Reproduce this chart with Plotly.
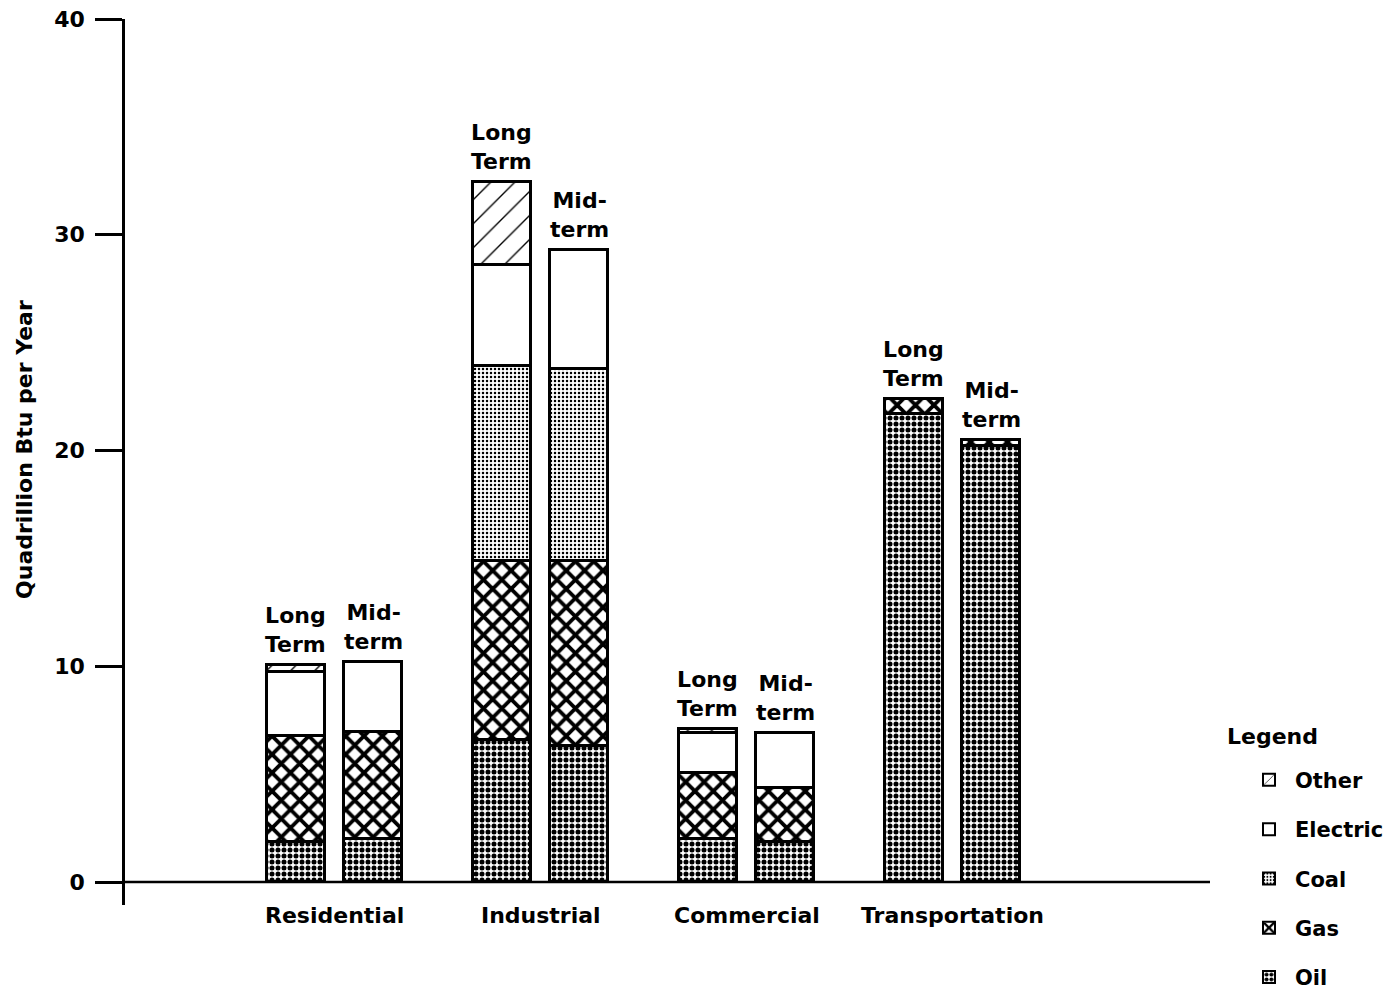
import plotly.graph_objects as go

# ---- data ----
sectors = ["Residential", "Industrial", "Commercial", "Transportation"]
scenarios = ["Long Term", "Mid-term"]
scenario_labels = ["Long<br>Term", "Mid-<br>term"]
fuels = ["Oil", "Gas", "Coal", "Electric", "Other"]

# values per sector: [Long Term, Mid-term]
oil = {"Residential": [1.85, 2.0], "Industrial": [6.6, 6.3],
       "Commercial": [2.0, 1.85], "Transportation": [21.7, 20.2]}
gas = {"Residential": [4.9, 4.95], "Industrial": [8.3, 8.6],
       "Commercial": [3.05, 2.5], "Transportation": [0.7, 0.3]}
coal = {"Residential": [0.0, 0.0], "Industrial": [9.0, 8.9],
        "Commercial": [0.0, 0.0], "Transportation": [0.0, 0.0]}
electric = {"Residential": [3.0, 3.25], "Industrial": [4.7, 5.5],
            "Commercial": [1.85, 2.55], "Transportation": [0.0, 0.0]}
other = {"Residential": [0.3, 0.0], "Industrial": [3.85, 0.0],
         "Commercial": [0.2, 0.0], "Transportation": [0.0, 0.0]}

y_ticks = [0, 10, 20, 30, 40]

series = {"Oil": oil, "Gas": gas, "Coal": coal, "Electric": electric, "Other": other}

patterns = {
    "Oil": dict(shape=".", size=6, solidity=0.55, fgcolor="black", bgcolor="white", fgopacity=1),
    "Gas": dict(shape="x", size=13, solidity=0.5, fgcolor="black", bgcolor="white", fgopacity=1),
    "Coal": dict(shape=".", size=4, solidity=0.3, fgcolor="black", bgcolor="white", fgopacity=1),
    "Electric": dict(shape="", fgcolor="black", bgcolor="white"),
    "Other": dict(shape="/", size=17, solidity=0.08, fgcolor="black", bgcolor="white", fgopacity=1),
}

FONT = "DejaVu Sans"
OFFSET = 0.187
WIDTH = 0.286

xs = []
for i, s in enumerate(sectors):
    for j, sc in enumerate(scenarios):
        xs.append(i + (-OFFSET if j == 0 else OFFSET))

fig = go.Figure()
for k, f in enumerate(fuels):
    vals = []
    for s in sectors:
        vals.extend(series[f][s])
    fig.add_trace(go.Bar(
        x=xs, y=vals, name=f, width=WIDTH,
        legendgroup=f, legendrank=len(fuels) - k,
        marker=dict(color="white", line=dict(color="black", width=3),
                    pattern=patterns[f]),
    ))

annotations = []
for i, s in enumerate(sectors):
    for j in range(2):
        total = sum(series[f][s][j] for f in fuels)
        annotations.append(dict(
            x=i + (-OFFSET if j == 0 else OFFSET), y=total,
            text=scenario_labels[j], showarrow=False,
            xanchor="center", yanchor="bottom", yshift=6,
            font=dict(family=FONT, size=22, color="black", weight="bold"),
        ))
    annotations.append(dict(
        x=i, y=0, text=s, showarrow=False,
        xanchor="center", yanchor="middle", yshift=-33,
        font=dict(family=FONT, size=22, color="black", weight="bold"),
    ))

# legend title
annotations.append(dict(
    x=1.0138, y=0.1907, xref="paper", yref="paper", text="Legend",
    showarrow=False, xanchor="left", yanchor="middle",
    font=dict(family=FONT, size=22, color="black", weight="bold"),
))
# y-axis title
annotations.append(dict(
    x=-0.0922, y=0.5147, xref="paper", yref="paper",
    text="Quadrillion Btu per Year", textangle=-90,
    showarrow=False, xanchor="center", yanchor="middle",
    font=dict(family=FONT, size=22, color="black", weight="bold"),
))

fig.update_layout(
    width=1393, height=999,
    barmode="stack",
    bargap=0,
    plot_bgcolor="white", paper_bgcolor="white",
    margin=dict(l=117, r=191, t=11, b=102, autoexpand=False),
    font=dict(family=FONT, color="black"),
    showlegend=True,
    legend=dict(
        x=1.0304, y=0.164, xanchor="left", yanchor="top",
        traceorder="grouped", tracegroupgap=19, itemwidth=42,
        font=dict(family=FONT, size=21, color="black", weight="bold"),
        itemsizing="constant",
    ),
    annotations=annotations,
    shapes=[dict(type="line", xref="paper", yref="y", x0=0, x1=1, y0=0, y1=0,
                 line=dict(color="black", width=2.5))],
)

fig.update_xaxes(range=[-1.017, 4.25], showgrid=False, zeroline=False,
                 showline=False, showticklabels=False, ticks="")
fig.update_yaxes(range=[-1.066, 40], tickvals=y_ticks,
                 tickfont=dict(family=FONT, size=22, color="black", weight="bold"),
                 ticks="outside", ticklen=27, tickwidth=2.5, tickcolor="black",
                 ticklabelstandoff=6, ticklabeloverflow="allow",
                 showline=True, linecolor="black", linewidth=2.5,
                 showgrid=False, zeroline=False)

fig.write_html("out.html")
